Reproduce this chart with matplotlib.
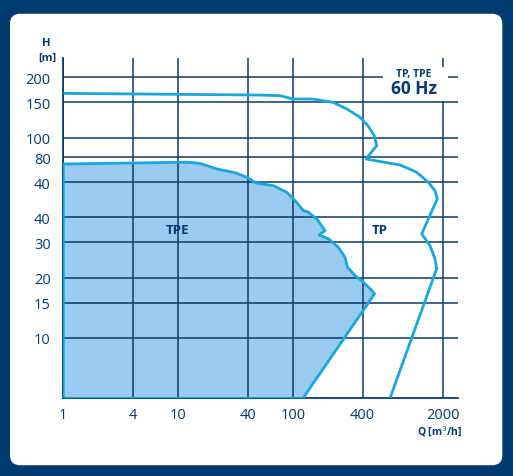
import matplotlib
matplotlib.use('Agg')
import matplotlib.pyplot as plt
from matplotlib.patches import FancyBboxPatch, Rectangle

# curve data (Q in m3/h, H in m)
tp_q = [1.03, 51.3, 76.6, 100, 148.4, 221.4, 293, 380, 446, 506, 531, 428.8,
        693, 847, 1183, 1492, 1707, 1787, 1308, 1544, 1707, 1766, 693]
tp_h = [166.4, 163.2, 162.0, 155.9, 155.9, 150.1, 139.0, 126.4, 114.7, 102.3,
        91.2, 78.3, 74.5, 73.1, 67.2, 59.9, 54.4, 49.5, 33.1, 28.9, 24.8, 22.2,
        5.0]

tpe_q = [1.0, 1.0, 11.9, 15.4, 21.7, 31.7, 40.4, 47.4, 67.0, 87.6, 103.5, 122.2,
         135, 159.8, 188.7, 168.3, 201.5, 246.2, 281.6, 294.9, 344, 406, 480.5,
         508, 121.4, 1.0]
tpe_h = [5.0, 73.9, 75.4, 74.4, 69.8, 66.7, 63.0, 59.4, 57.6, 53.4, 48.5, 43.3,
         42.5, 39.3, 34.4, 32.7, 31.3, 28.4, 25.3, 22.6, 20.5, 19.0, 17.3, 16.6,
         5.0, 5.0]

x_ticks = [1, 4, 10, 40, 100, 400, 2000]
x_labels = ['1', '4', '10', '40', '100', '400', '2000']
y_ticks = [10, 15, 20, 30, 40, 60, 80, 100, 150, 200]
y_labels = ['10', '15', '20', '30', '40', '40', '80', '100', '150', '200']

navy = '#003a6e'
grid_c = '#0b3a6a'
cyan = '#19a6df'
fill_c = '#99cbee'

W, H = 513, 477
plt.rcParams['font.family'] = ['Open Sans', 'DejaVu Sans']


def fx(x):
    return x / W


def fy(y):
    return 1 - y / H


fig = plt.figure(figsize=(W / 100, H / 100), dpi=100, facecolor=navy)

# white card
card = FancyBboxPatch((fx(10) + 0.012, fy(466.7) + 0.013),
                      fx(502.3) - fx(10) - 0.024, fy(14.3) - fy(466.7) - 0.026,
                      boxstyle='round,pad=0.012,rounding_size=0.02',
                      transform=fig.transFigure, facecolor='white',
                      edgecolor='none', zorder=-5)
fig.patches.append(card)

x0, x1 = 63.3, 457.7
y0, y1 = 59.3, 399.3
ax = fig.add_axes([fx(x0), fy(y1), fx(x1) - fx(x0), fy(y0) - fy(y1)])
ax.set_facecolor('none')
ax.set_xscale('log')
ax.set_yscale('log')
ax.set_xlim(1, 10 ** ((x1 - x0) / 115))
ax.set_ylim(5, 249)

ax.fill(tpe_q, tpe_h, color=fill_c, zorder=0.3, lw=0)
ax.plot(tpe_q, tpe_h, color=cyan, lw=2.0, zorder=3, solid_joinstyle='round')
ax.plot(tp_q, tp_h, color=cyan, lw=2.0, zorder=3, solid_joinstyle='round')

ax.set_xticks(x_ticks)
ax.set_xticklabels(x_labels)
ax.set_yticks(y_ticks)
ax.set_yticklabels(y_labels)
ax.minorticks_off()
ax.tick_params(length=0, colors=navy, labelsize=10.5, pad=9)
ax.tick_params(axis='x', pad=6)
ax.set_axisbelow(True)
ax.grid(True, color=grid_c, lw=1.1)
for s in ['top', 'right']:
    ax.spines[s].set_visible(False)
for s in ['left', 'bottom']:
    ax.spines[s].set_color(grid_c)
    ax.spines[s].set_linewidth(1.3)

# label box
box = Rectangle((fx(383), fy(102)), fx(448) - fx(383), fy(68) - fy(102),
                transform=fig.transFigure, facecolor='white', edgecolor='none',
                zorder=2.8)
ax.add_artist(box)
box.set_clip_on(False)
fig.text(fx(414), fy(74.5), 'TP, TPE', ha='center', va='center', color=navy,
         fontsize=7.5, fontweight='bold', zorder=5)
fig.text(fx(414), fy(89), '60 Hz', ha='center', va='center', color=navy,
         fontsize=12.5, fontweight='bold', zorder=5)

fig.text(fx(177.5), fy(231), 'TPE', ha='center', va='center', color=navy,
         fontsize=9.5, fontweight='bold')
fig.text(fx(379.5), fy(231), 'TP', ha='center', va='center', color=navy,
         fontsize=9.5, fontweight='bold')

fig.text(fx(46), fy(43), 'H', ha='center', va='center', color=navy,
         fontsize=8, fontweight='bold')
fig.text(fx(47), fy(58), '[m]', ha='center', va='center', color=navy,
         fontsize=8, fontweight='bold')
fig.text(fx(440), fy(432), 'Q [m$^3$/h]', ha='center', va='center', color=navy,
         fontsize=7.5, fontweight='bold')

fig.savefig('out.png', dpi=100, facecolor=navy)
